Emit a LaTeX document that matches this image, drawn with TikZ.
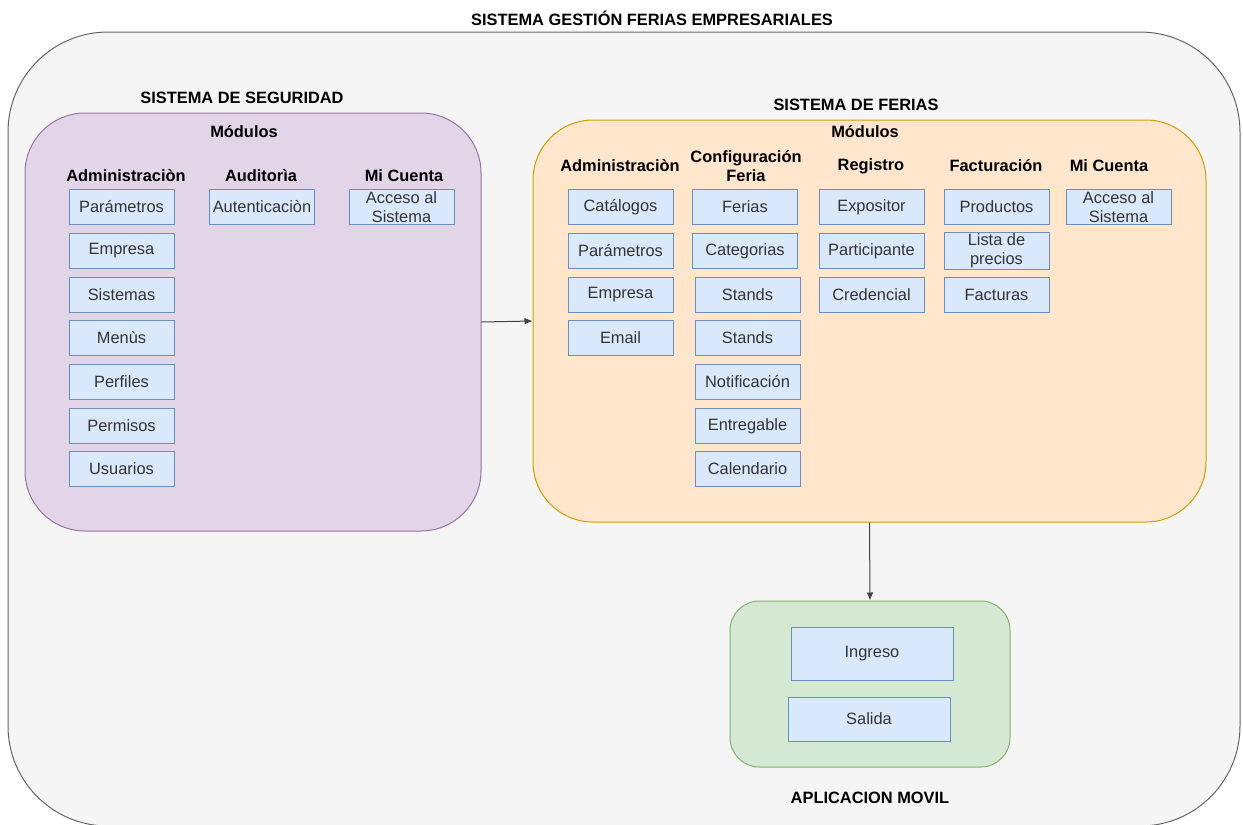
\documentclass[tikz,border=0pt]{standalone}
\usepackage{fontspec}
\setmainfont{Liberation Sans}
\usetikzlibrary{arrows, arrows.meta, positioning}
\definecolor{boxfill}{HTML}{DAE8FC}
\definecolor{boxline}{HTML}{6C8EBF}
\definecolor{segfill}{HTML}{E1D5E7}
\definecolor{segline}{HTML}{9673A6}
\definecolor{ferfill}{HTML}{FFE6CC}
\definecolor{ferline}{HTML}{D79B00}
\definecolor{movfill}{HTML}{D5E8D4}
\definecolor{movline}{HTML}{82B366}
\definecolor{genfill}{HTML}{F5F5F5}
\definecolor{genline}{HTML}{666666}
\tikzset{
    modbox/.style={rectangle, draw=boxline, fill=boxfill, line width=0.75pt, minimum width=78.75pt, minimum height=26.25pt, inner sep=1pt, align=center, text=black!80, font=\fontsize{12.3}{14.25}\selectfont},% one module box
    modhead/.style={font=\bfseries\fontsize{12.3}{14.25}\selectfont, align=center},
    panel/.style={rectangle, rounded corners=45pt, line width=0.75pt, inner sep=0pt},
    link/.style={-{Latex[length=6pt, width=5pt]}, black!75, line width=0.75pt},
}

\begin{document}
\begin{tikzpicture}[x=0.75pt, y=-0.75pt]
            \useasboundingbox (0,0) rectangle (1243,825);
            % general frame
            \node[panel, rounded corners=75pt, draw=genline, fill=genfill, minimum width=924pt, minimum height=595.5pt] (general) at (624,429) {};
            \node[modhead] (titgeneral) at (652,18) {SISTEMA GESTIÓN FERIAS EMPRESARIALES};

            % sistema de seguridad
            \node[panel, draw=segline, fill=segfill, minimum width=342pt, minimum height=313.5pt] (seguridad) at (253,322) {};
            \node[modhead] (titseguridad) at (242,98) {SISTEMA DE SEGURIDAD};
            \node[modhead] (modseguridad) at (244,132) {Módulos};
            \node[modhead] (hsegadm) at (126,176) {Administraciòn};
            \node[modhead] (hsegaud) at (261,176) {Auditorìa};
            \node[modhead] (hsegcta) at (404,176) {Mi Cuenta};
            \foreach \y/\txt [count=\r] in {207/Parámetros, 251/Empresa, 295/Sistemas, 338/Menùs, 382/Perfiles, 426/Permisos, 469/Usuarios} {
                \node[modbox] (segadm-\r) at (121.5,\y) {\txt};
            }
            \node[modbox] (segaud-1) at (262,207) {Autenticaciòn};
            \node[modbox] (segcta-1) at (401.5,207) {Acceso al\\Sistema};

            % sistema de ferias
            \node[panel, draw=ferline, fill=ferfill, minimum width=504.75pt, minimum height=301.5pt] (ferias) at (869.5,321) {};
            \node[modhead] (titferias) at (856,105) {SISTEMA DE FERIAS};
            \node[modhead] (modferias) at (865,132) {Módulos};
            \node[modhead] (hferadm) at (620,166) {Administraciòn};
            \node[modhead] (hfercfg) at (746,166) {Configuración\\Feria};
            \node[modhead] (hferreg) at (871,166) {Registro};
            \node[modhead] (hferfac) at (996,166) {Facturación};
            \node[modhead] (hfercta) at (1109,166) {Mi Cuenta};
            \foreach \y/\txt [count=\r] in {207/Catálogos, 251/Parámetros, 295/Empresa, 338/Email} {
                \node[modbox] (feradm-\r) at (620.5,\y) {\txt};
            }
            \foreach \x/\y/\txt [count=\r] in {745/207/Ferias, 745/251/Categorias, 747.5/295/Stands, 747.5/338/Stands, 747.5/382/Notificación, 747.5/426/Entregable, 747.5/469/Calendario} {
                \node[modbox] (fercfg-\r) at (\x,\y) {\txt};
            }
            \foreach \y/\txt [count=\r] in {207/Expositor, 251/Participante, 295/Credencial} {
                \node[modbox] (ferreg-\r) at (871.5,\y) {\txt};
            }
            \foreach \y/\txt [count=\r] in {207/Productos, 251/{Lista de\\precios}, 295/Facturas} {
                \node[modbox] (ferfac-\r) at (996.5,\y) {\txt};
            }
            \node[modbox] (fercta-1) at (1118.5,207) {Acceso al\\Sistema};

            % aplicacion movil
            \node[panel, rounded corners=22pt, draw=movline, fill=movfill, minimum width=210pt, minimum height=124.5pt] (movil) at (870,684) {};
            \node[modbox, minimum width=121.5pt, minimum height=39.75pt] (ingreso) at (872,653.5) {Ingreso};
            \node[modbox, minimum width=121.5pt, minimum height=33pt] (salida) at (869,719) {Salida};
            \node[modhead] (titmovil) at (870,798) {APLICACION MOVIL};

            % connectors
            \draw[link] (seguridad.east) -- (ferias.west);
            \draw[link] (ferias.south) -- (movil.north);
        \end{tikzpicture}
\end{document}
